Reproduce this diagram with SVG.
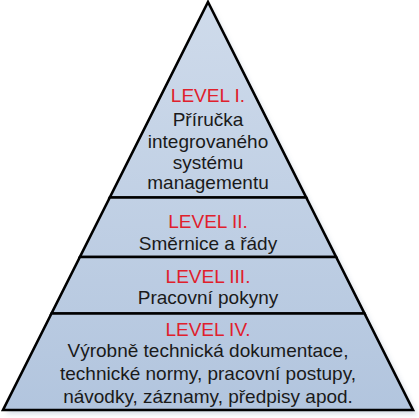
<svg xmlns="http://www.w3.org/2000/svg" width="419" height="418" viewBox="0 0 419 418">
<defs>
<linearGradient id="fill" gradientUnits="userSpaceOnUse" x1="0" y1="0" x2="0" y2="410">
<stop offset="0" stop-color="#cfdbeb"/>
<stop offset="1" stop-color="#b2c5de"/>
</linearGradient>
<filter id="sh" x="-10%" y="-10%" width="120%" height="120%">
<feGaussianBlur stdDeviation="2.5"/>
</filter>
<style>
.band{fill:url(#fill);stroke:#000;stroke-width:2.6;stroke-linejoin:miter}
text{font-family:"Liberation Sans",Arial,sans-serif;font-size:19px;text-anchor:middle;fill:#1a1a1a}
.lv{fill:#e0202c}
</style>
</defs>
<rect width="419" height="418" fill="#fff"/>
<polygon points="211,6 6,414 417,414" fill="#a9b8cc" opacity="0.45" filter="url(#sh)"/>
<g id="level1">
<polygon class="band" points="208,2 306.2,197.5 109.8,197.5"/>
<text class="lv" x="208" y="102">LEVEL I.</text>
<text x="208" y="126">Příručka</text>
<text x="208" y="148">integrovaného</text>
<text x="208" y="168.5">systému</text>
<text x="208" y="189">managementu</text>
</g>
<g id="level2">
<polygon class="band" points="109.8,197.5 306.2,197.5 336.1,257 79.9,257"/>
<text class="lv" x="208" y="228">LEVEL II.</text>
<text x="208" y="250">Směrnice a řády</text>
</g>
<g id="level3">
<polygon class="band" points="79.9,257 336.1,257 364.5,313.5 51.5,313.5"/>
<text class="lv" x="208" y="282.5">LEVEL III.</text>
<text x="208" y="303.5">Pracovní pokyny</text>
</g>
<g id="level4">
<polygon class="band" points="51.5,313.5 364.5,313.5 413,410 3,410"/>
<text class="lv" x="208" y="335.5">LEVEL IV.</text>
<text x="208" y="357">Výrobně technická dokumentace,</text>
<text x="208" y="380">technické normy, pracovní postupy,</text>
<text x="208" y="403">návodky, záznamy, předpisy apod.</text>
</g>
<g id="connectors"/>
</svg>
